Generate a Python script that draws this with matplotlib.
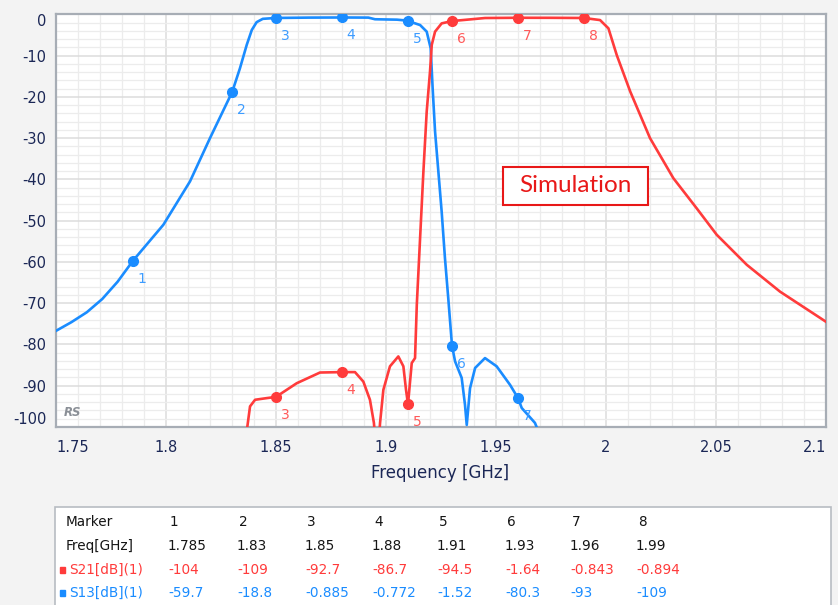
import matplotlib
matplotlib.use("Agg")
import matplotlib.pyplot as plt
from matplotlib.patches import Rectangle
import numpy as np

# ---------------- data ----------------
s13_freq = [1.750, 1.757, 1.764, 1.771, 1.778, 1.785, 1.7988, 1.8109, 1.820, 1.8301,
            1.8336, 1.8367, 1.839, 1.8412, 1.844, 1.850, 1.865, 1.880, 1.892, 1.895,
            1.905, 1.9094, 1.9155, 1.9185, 1.9203, 1.9212, 1.9223, 1.9238, 1.9253, 1.9268,
            1.9283, 1.930, 1.9314, 1.9344, 1.9359, 1.9367, 1.9382, 1.9405, 1.945, 1.9503,
            1.9564, 1.960, 1.9617, 1.9677, 1.970]
s13_db = [-76.7, -74.6, -72.2, -69.0, -64.8, -59.7, -51.0, -40.5, -30.0, -18.8,
          -13.1, -7.4, -3.8, -1.9, -1.1, -0.885, -0.8, -0.772, -0.8, -1.2,
          -1.3, -1.52, -2.6, -4.2, -8.2, -17.9, -28.4, -38.1, -47.8, -59.1,
          -68.8, -80.3, -84.1, -88.1, -94.6, -99.5, -90.6, -85.7, -83.3, -85.3,
          -89.8, -93.0, -95.4, -99.0, -102.0]

s21_freq = [1.8367, 1.8382, 1.8405, 1.8458, 1.850, 1.8594, 1.870, 1.880, 1.8859, 1.8897,
            1.8927, 1.8945, 1.8955, 1.8965, 1.8973, 1.8988, 1.9018, 1.9056, 1.9079, 1.9091,
            1.910, 1.9117, 1.9132, 1.914, 1.9155, 1.917, 1.9185, 1.920, 1.9208, 1.9223,
            1.9253, 1.930, 1.945, 1.960, 1.975, 1.990, 1.9973, 2.0011, 2.0049, 2.011,
            2.020, 2.0306, 2.0412, 2.0503, 2.064, 2.0791, 2.100]
s21_db = [-101.0, -95.0, -93.4, -93.0, -92.7, -89.4, -86.8, -86.7, -86.7, -89.0,
          -93.4, -99.0, -105.0, -105.0, -99.0, -91.0, -85.3, -82.9, -85.3, -91.0,
          -94.5, -84.5, -83.3, -70.4, -54.2, -38.1, -23.6, -13.9, -7.4, -4.2,
          -2.2, -1.64, -0.9, -0.843, -0.85, -0.894, -1.4, -3.4, -9.9, -18.7,
          -30.0, -39.7, -47.0, -53.4, -60.7, -67.2, -74.5]

marker_ids = ["1", "2", "3", "4", "5", "6", "7", "8"]
marker_freq = [1.785, 1.83, 1.85, 1.88, 1.91, 1.93, 1.96, 1.99]
marker_freq_txt = ["1.785", "1.83", "1.85", "1.88", "1.91", "1.93", "1.96", "1.99"]
marker_s21 = [-104, -109, -92.7, -86.7, -94.5, -1.64, -0.843, -0.894]
marker_s21_txt = ["-104", "-109", "-92.7", "-86.7", "-94.5", "-1.64", "-0.843", "-0.894"]
marker_s13 = [-59.7, -18.8, -0.885, -0.772, -1.52, -80.3, -93, -109]
marker_s13_txt = ["-59.7", "-18.8", "-0.885", "-0.772", "-1.52", "-80.3", "-93", "-109"]

x_ticks = [1.75, 1.80, 1.85, 1.90, 1.95, 2.00, 2.05, 2.10]
x_tick_labels = ["1.75", "1.8", "1.85", "1.9", "1.95", "2", "2.05", "2.1"]
y_ticks = [0, -10, -20, -30, -40, -50, -60, -70, -80, -90, -100]
y_tick_labels = ["0", "-10", "-20", "-30", "-40", "-50", "-60", "-70", "-80", "-90", "-100"]

# ---------------- style ----------------
W, H = 838, 605
BLUE = "#1a8cff"
RED = "#ff3b3b"
BLUE_LBL = "#3d9cff"
RED_LBL = "#ff5a5a"
NAVY = "#1b2756"

def fx(px):
    return px / W

def fy(py):
    return 1 - py / H

fig = plt.figure(figsize=(W / 100, H / 100), dpi=100, facecolor="#f3f3f3")
ax = fig.add_axes([fx(56), fy(427), fx(826) - fx(56), fy(14.3) - fy(427)])
ax.set_facecolor("white")
ax.set_xlim(1.75, 2.10)
ax.set_ylim(-100, 0)

# grids
ax.set_xticks(x_ticks)
ax.set_xticks(np.arange(1.75, 2.1001, 0.01), minor=True)
ax.set_yticks(y_ticks)
ax.set_yticks(np.arange(-100, 0.01, 2), minor=True)
ax.grid(which="major", color="#dcdcdc", lw=1.1, zorder=0)
ax.grid(which="minor", color="#ececec", lw=0.9, zorder=0)
ax.set_axisbelow(True)
ax.tick_params(which="both", length=0)
ax.tick_params(axis="x", pad=9.5, labelsize=10.5, labelcolor=NAVY)
ax.tick_params(axis="y", pad=7, labelsize=10.5, labelcolor=NAVY)
ax.set_xticklabels(x_tick_labels)
ax.set_yticklabels(y_tick_labels)
xl = ax.get_xticklabels()
xl[0].set_ha("left")
xl[-1].set_ha("right")
yl = ax.get_yticklabels()
yl[0].set_va("top")
yl[-1].set_va("bottom")
for s in ax.spines.values():
    s.set_color("#a7adb5")
    s.set_linewidth(1.6)

# curves
ax.plot(s13_freq, s13_db, color=BLUE, lw=1.9, zorder=3, solid_joinstyle="round")
ax.plot(s21_freq, s21_db, color=RED, lw=1.9, zorder=3, solid_joinstyle="round")

# markers
for mid, f, v in zip(marker_ids, marker_freq, marker_s13):
    if v >= -100:
        ax.plot(f, v, "o", color=BLUE, ms=7, zorder=4, clip_on=True)
        t = ax.annotate(mid, (f, v), xytext=(9, -18), textcoords="offset pixels",
                        ha="center", va="center", fontsize=10, color=BLUE_LBL, zorder=5)
        t.set_clip_on(True)
for mid, f, v in zip(marker_ids, marker_freq, marker_s21):
    if v >= -100:
        ax.plot(f, v, "o", color=RED, ms=7, zorder=4, clip_on=True)
        t = ax.annotate(mid, (f, v), xytext=(9, -18), textcoords="offset pixels",
                        ha="center", va="center", fontsize=10, color=RED_LBL, zorder=5)
        t.set_clip_on(True)

# RS logo
ax.text(fx(64 - 56) / (fx(826) - fx(56)), 0.035, "RS", transform=ax.transAxes,
        fontsize=8.5, fontweight="bold", fontstyle="italic", color="#8a8f96",
        ha="left", va="center")

# Simulation box
fig.patches.append(Rectangle((fx(502.5), fy(205)), fx(648) - fx(502.5), fy(167) - fy(205),
                             transform=fig.transFigure, facecolor="white",
                             edgecolor="#e81818", lw=1.5, zorder=5))
fig.text(fx(575), fy(186), "Simulation", fontsize=17.5, color="#e81818",
         family="Lato", ha="center", va="center", zorder=6)

fig.text(fx(440), fy(473), "Frequency [GHz]", fontsize=12, color=NAVY,
         ha="center", va="center")

# ---------------- table ----------------
fig.patches.append(Rectangle((fx(55), fy(610)), fx(831) - fx(55), fy(507) - fy(610),
                             transform=fig.transFigure, facecolor="white",
                             edgecolor="#b8bcc2", lw=1.2, zorder=1))
col_x = [168, 237, 305, 372, 437, 505, 570, 636]
row_y = [522, 546, 570, 593]
TFS = 9.8
TXT = "#151515"
fig.text(fx(66), fy(row_y[0]), "Marker", fontsize=TFS, color=TXT, va="center", ha="left")
fig.text(fx(66), fy(row_y[1]), "Freq[GHz]", fontsize=TFS, color=TXT, va="center", ha="left")
fig.text(fx(69), fy(row_y[2]), "S21[dB](1)", fontsize=TFS, color=RED, va="center", ha="left")
fig.text(fx(69), fy(row_y[3]), "S13[dB](1)", fontsize=TFS, color=BLUE, va="center", ha="left")
fig.patches.append(Rectangle((fx(60), fy(row_y[2] + 3)), fx(5), fy(0) - fy(6),
                             transform=fig.transFigure, color=RED, zorder=3))
fig.patches.append(Rectangle((fx(60), fy(row_y[3] + 3)), fx(5), fy(0) - fy(6),
                             transform=fig.transFigure, color=BLUE, zorder=3))
for i in range(len(marker_ids)):
    fig.text(fx(col_x[i] + 2), fy(row_y[0]), marker_ids[i], fontsize=TFS, color=TXT, va="center", ha="left")
    fig.text(fx(col_x[i]), fy(row_y[1]), marker_freq_txt[i], fontsize=TFS, color=TXT, va="center", ha="left")
    fig.text(fx(col_x[i]), fy(row_y[2]), marker_s21_txt[i], fontsize=TFS, color=RED, va="center", ha="left")
    fig.text(fx(col_x[i]), fy(row_y[3]), marker_s13_txt[i], fontsize=TFS, color=BLUE, va="center", ha="left")

fig.savefig("out.png", dpi=100, facecolor=fig.get_facecolor())
